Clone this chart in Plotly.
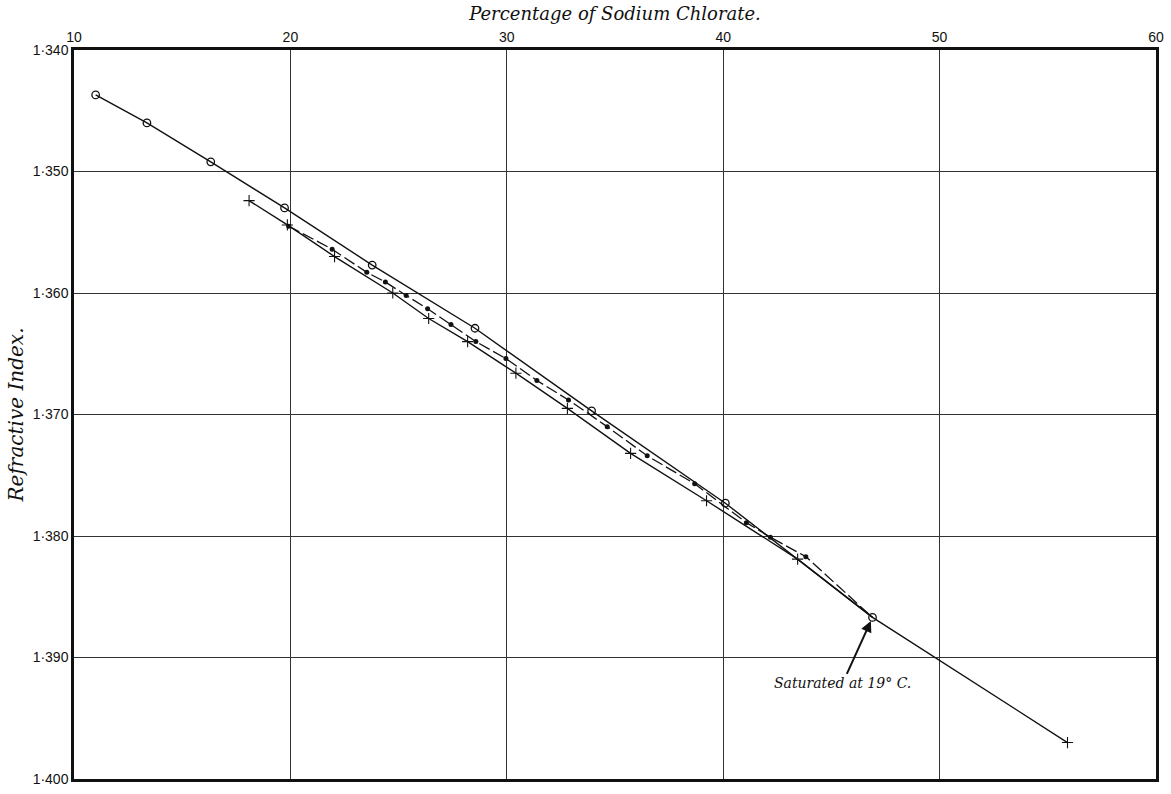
import plotly.graph_objects as go

# ---- data ----
circles_x = [11.0, 13.37, 16.32, 19.73, 23.78, 28.53, 33.92, 40.10]
circles_y = [1.3437, 1.3460, 1.3492, 1.3530, 1.3577, 1.3629, 1.3697, 1.3773]

crosses_x = [18.09, 19.86, 22.04, 24.73, 26.39, 28.19, 30.42, 32.80, 35.72, 39.23, 43.44]
crosses_y = [1.3524, 1.3544, 1.3570, 1.3600, 1.3621, 1.3640, 1.3666, 1.3695, 1.3732, 1.3771, 1.3819]

dots_x = [19.92, 21.93, 23.53, 24.39, 25.35, 26.34, 27.42, 28.57, 29.96, 31.39,
          32.85, 34.64, 36.49, 38.68, 41.07, 42.18, 43.82]
dots_y = [1.3545, 1.3564, 1.3583, 1.3591, 1.3602, 1.3613, 1.3626, 1.3640, 1.3654, 1.3672,
          1.3688, 1.3710, 1.3734, 1.3757, 1.3789, 1.3801, 1.3817]

saturated_x = [46.90]
saturated_y = [1.3867]

extra_x = [55.91]
extra_y = [1.3970]

x_ticks = [10, 20, 30, 40, 50, 60]
y_ticks = [1.340, 1.350, 1.360, 1.370, 1.380, 1.390, 1.400]
y_ticktext = ["1·340", "1·350", "1·360", "1·370", "1·380", "1·390", "1·400"]

INK = "#111111"
SERIF = "DejaVu Serif, Liberation Serif, serif"
SANS = "Liberation Sans, Arial, sans-serif"
fig = go.Figure()

# circles series (solid line)
fig.add_trace(go.Scatter(
    x=circles_x + saturated_x, y=circles_y + saturated_y, mode="lines+markers",
    line=dict(color=INK, width=1.4),
    marker=dict(symbol="circle-open", size=7.5, color=INK, line=dict(width=1.3, color=INK)),
    showlegend=False))

# dots series (dashed line)
fig.add_trace(go.Scatter(
    x=dots_x + saturated_x, y=dots_y + saturated_y, mode="lines",
    line=dict(color=INK, width=1.3, dash="12px,4px"), showlegend=False))
fig.add_trace(go.Scatter(
    x=dots_x, y=dots_y, mode="markers",
    marker=dict(symbol="circle", size=5, color=INK), showlegend=False))

# crosses series (solid line) continuing past saturation
fig.add_trace(go.Scatter(
    x=crosses_x + saturated_x + extra_x, y=crosses_y + saturated_y + extra_y, mode="lines",
    line=dict(color=INK, width=1.4), showlegend=False))
fig.add_trace(go.Scatter(
    x=crosses_x + extra_x, y=crosses_y + extra_y, mode="markers",
    marker=dict(symbol="cross-thin", size=8, color=INK, line=dict(width=1.1, color=INK)),
    showlegend=False))

fig.add_annotation(
    x=saturated_x[0], y=saturated_y[0], xref="x", yref="y",
    text="<i>Saturated at 19° C.</i>", showarrow=True,
    ax=-30, ay=66, arrowhead=2, arrowsize=1.1, arrowwidth=2, arrowcolor=INK,
    standoff=4,
    font=dict(family=SERIF, size=14, color=INK))

fig.update_layout(
    width=1171, height=794,
    margin=dict(l=74, r=12, t=50, b=7),
    paper_bgcolor="white", plot_bgcolor="white",
    xaxis=dict(
        side="top", range=[10, 60], tickvals=x_ticks, ticktext=[str(v) for v in x_ticks],
        showgrid=True, gridcolor="#333333", gridwidth=1, zeroline=False,
        showline=True, linecolor=INK, linewidth=2.5, mirror=True, ticks="",
        tickfont=dict(family=SANS, size=14, color=INK),
        title=dict(text="<i>Percentage of Sodium Chlorate.</i>", standoff=4,
                   font=dict(family=SERIF, size=18, color=INK)),
    ),
    yaxis=dict(
        range=[1.400, 1.340], tickvals=y_ticks, ticktext=y_ticktext,
        showgrid=True, gridcolor="#333333", gridwidth=1, zeroline=False,
        showline=True, linecolor=INK, linewidth=2.5, mirror=True, ticks="",
        tickfont=dict(family=SANS, size=14, color=INK),
        title=dict(text="<i>Refractive Index.</i>", standoff=4,
                   font=dict(family=SERIF, size=20, color=INK)),
    ),
)

fig.write_html("out.html", post_script="document.body.style.margin='0';",
               config={"displayModeBar": False})
